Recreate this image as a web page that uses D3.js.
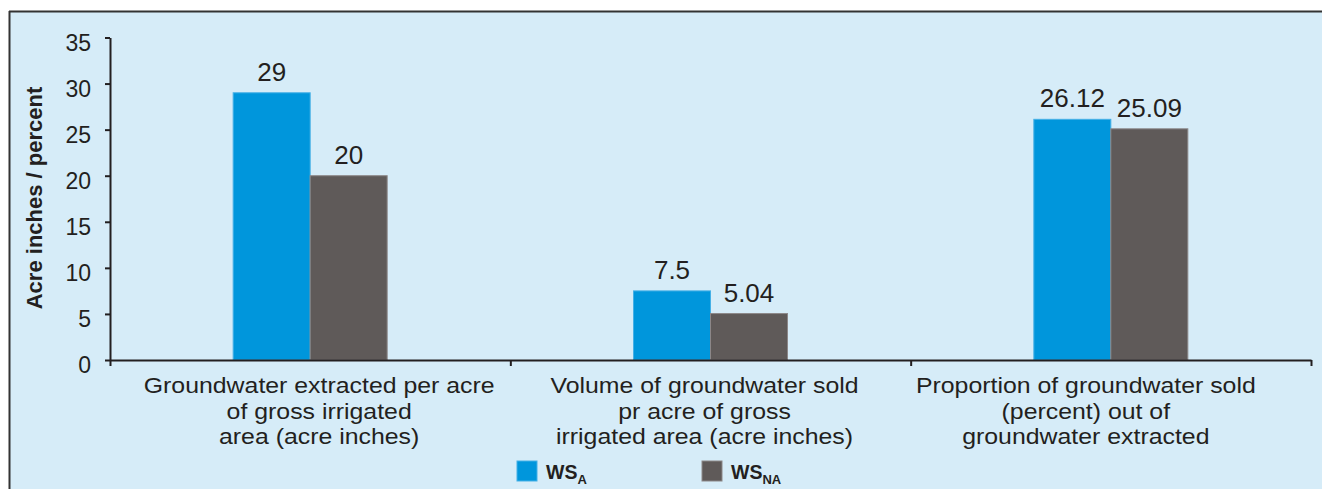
<!DOCTYPE html>
<html>
<head>
<meta charset="utf-8">
<script src="https://cdn.jsdelivr.net/npm/d3@7"></script>
<style>
  body { margin: 0; background: #fff; }
  text { font-family: "Liberation Sans", Arial, sans-serif; fill: #231f20; }
</style>
</head>
<body>
<div id="vis"></div>
<script>
// data
var categories = [
    ["Groundwater extracted per acre", "of gross irrigated", "area (acre inches)"],
    ["Volume of groundwater sold", "pr acre of gross", "irrigated area (acre inches)"],
    ["Proportion of groundwater sold", "(percent) out of", "groundwater extracted"]
];
var wsA = [29, 7.5, 26.12];
var wsNA = [20, 5.04, 25.09];
var seriesMain = ["WS", "WS"];
var seriesSub = ["A", "NA"];
var yTicks = [0, 5, 10, 15, 20, 25, 30, 35];
var yTitle = "Acre inches / percent";

// layout
var width = 1322, height = 489;
var colors = ["#0096dc", "#5f5a59"];
var strokes = ["#45b0e6", "#8c8788"];
var labelNudge = [9, -6, -25];

var svg = d3.select("#vis").append("svg")
    .attr("width", width)
    .attr("height", height);

svg.append("rect").attr("x", 9).attr("y", 11)
    .attr("width", width - 9).attr("height", height - 11)
    .attr("fill", "#d6ecf8");
svg.append("line").attr("x1", 9).attr("x2", width).attr("y1", 11.5).attr("y2", 11.5)
    .attr("stroke", "#333").attr("stroke-width", 2);
svg.append("line").attr("x1", 9.5).attr("x2", 9.5).attr("y1", 11).attr("y2", height)
    .attr("stroke", "#333").attr("stroke-width", 2);

var y = d3.scaleLinear().domain([0, 35]).range([360, 37.5]);
var x0 = d3.scaleBand().domain(d3.range(categories.length)).range([110, 1311]);
var x1 = d3.scaleBand().domain([0, 1]).range([0, 154]);
var xEdge = d3.scaleLinear().domain([0, categories.length]).range([110, 1311]);

// bars
var series = [wsA, wsNA];
series.forEach(function(vals, s) {
    var g = svg.append("g");
    g.selectAll("rect")
        .data(vals)
        .enter().append("rect")
        .attr("x", function(d, i) { return x0(i) + x0.bandwidth() / 2 - 77 + x1(s); })
        .attr("y", function(d) { return y(d); })
        .attr("width", x1.bandwidth())
        .attr("height", function(d) { return y(0) - y(d); })
        .attr("fill", colors[s])
        .attr("stroke", strokes[s])
        .attr("stroke-width", 1);

    g.selectAll("text")
        .data(vals)
        .enter().append("text")
        .attr("x", function(d, i) { return x0(i) + x0.bandwidth() / 2 - 77 + x1(s) + x1.bandwidth() / 2; })
        .attr("y", function(d) { return y(d) - 12; })
        .attr("text-anchor", "middle")
        .style("font-size", "26px")
        .text(function(d) { return String(d); });
});

// y axis
var yAxis = svg.append("g")
    .attr("transform", "translate(110,0)")
    .call(d3.axisLeft(y).tickValues(yTicks).tickSize(5).tickSizeOuter(0).tickPadding(14));
yAxis.select(".domain").attr("stroke", "#231f20").attr("stroke-width", 2);
yAxis.selectAll(".tick line").attr("stroke", "#231f20").attr("stroke-width", 2);
yAxis.selectAll(".tick text")
    .attr("dy", "0.55em")
    .style("font-size", "23px")
    .style("font-family", "'Liberation Sans', Arial, sans-serif")
    .attr("fill", "#231f20");

// x axis (category boundaries)
var xAxis = svg.append("g")
    .attr("transform", "translate(0,360)")
    .call(d3.axisBottom(xEdge).tickValues(d3.range(categories.length + 1)).tickSize(6).tickSizeOuter(0).tickFormat(""));
xAxis.select(".domain").attr("stroke", "#231f20").attr("stroke-width", 2);
xAxis.selectAll(".tick line").attr("stroke", "#231f20").attr("stroke-width", 2);

// category labels
categories.forEach(function(lines, i) {
    var cx = x0(i) + x0.bandwidth() / 2 + labelNudge[i];
    lines.forEach(function(line, k) {
        svg.append("g")
            .attr("transform", "translate(" + cx + "," + (393 + k * 25.5) + ") scale(1.13,1)")
            .append("text")
            .attr("text-anchor", "middle")
            .style("font-size", "22px")
            .text(line);
    });
});

// y title
svg.append("text")
    .attr("transform", "translate(42,198) rotate(-90)")
    .attr("text-anchor", "middle")
    .style("font-size", "22px")
    .style("font-weight", "bold")
    .text(yTitle);

// legend
var legendX = [517, 702];
seriesMain.forEach(function(name, s) {
    var lg = svg.append("g").attr("transform", "translate(" + legendX[s] + ",461)");
    lg.append("rect").attr("width", 20).attr("height", 20)
        .attr("fill", colors[s]).attr("stroke", strokes[s]).attr("stroke-width", 1);
    var t = lg.append("text").attr("x", 29).attr("y", 18)
        .style("font-size", "19.5px").style("font-weight", "bold");
    t.append("tspan").text(name);
    t.append("tspan").attr("dy", 5).style("font-size", "13px").text(seriesSub[s]);
});
</script>
</body>
</html>
